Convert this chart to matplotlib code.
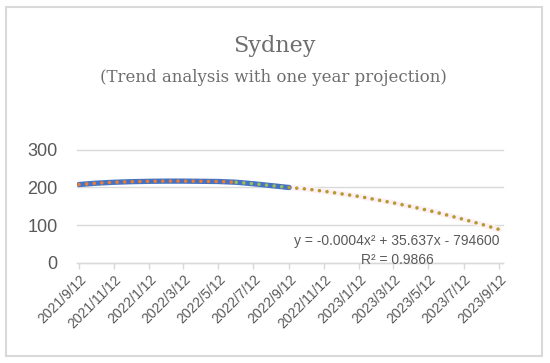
import matplotlib.pyplot as plt
import matplotlib.dates as mdates
from matplotlib.patches import Rectangle
import datetime as dt

# observed series (monthly readings), 2021/9/12 - 2022/9/12
obs_dates = ['2021-09-12', '2021-10-12', '2021-11-12', '2021-12-12', '2022-01-12',
             '2022-02-12', '2022-03-12', '2022-04-12', '2022-05-12', '2022-06-12',
             '2022-07-12', '2022-08-12', '2022-09-12']
obs_vals = [208, 211.5, 214, 215.5, 216.5, 217, 217, 216.5, 216, 214, 210, 205, 200]

# polynomial trendline, one year projection
proj_dates = ['2022-09-12', '2022-10-12', '2022-11-12', '2022-12-12', '2023-01-12',
              '2023-02-12', '2023-03-12', '2023-04-12', '2023-05-12', '2023-06-12',
              '2023-07-12', '2023-08-12', '2023-09-12']
proj_vals = [200, 196, 190, 183, 176, 167, 159, 149, 139, 127, 115, 102, 88]

tick_dates = ['2021-09-12', '2021-11-12', '2022-01-12', '2022-03-12', '2022-05-12',
              '2022-07-12', '2022-09-12', '2022-11-12', '2023-01-12', '2023-03-12',
              '2023-05-12', '2023-07-12', '2023-09-12']

yticks = [0, 100, 200, 300]

eq_text = 'y = -0.0004x² + 35.637x - 794600'
r2_text = 'R² = 0.9866'


def to_date(s):
    return dt.datetime.strptime(s, '%Y-%m-%d')


def fmt(d):
    return '%d/%d/%d' % (d.year, d.month, d.day)


obs_x = [to_date(s) for s in obs_dates]
proj_x = [to_date(s) for s in proj_dates]
tick_x = [to_date(s) for s in tick_dates]

grey = '#595959'
light = '#D9D9D9'

fig = plt.figure(figsize=(5.5, 3.63), dpi=100)

# chart frame
fig.patches.append(Rectangle((5.5 / 550, 1 - 355.5 / 363), 536.5 / 550, 349 / 363,
                             transform=fig.transFigure, fill=False,
                             edgecolor=light, linewidth=1.5))

fig.text(0.498, 0.873, 'Sydney', ha='center', va='center',
         family='DejaVu Serif', fontsize=16, color='#6e6e6e')
fig.text(0.498, 0.787, '(Trend analysis with one year projection)', ha='center',
         va='center', family='DejaVu Serif', fontsize=12, color='#6e6e6e')

ax = fig.add_axes([77 / 550, 1 - 262.5 / 363, 426 / 550, 112.5 / 363])

dots = (0, (0.01, 2.1))

ax.plot(proj_x, proj_vals, color='#fdf0f4', linewidth=4, solid_capstyle='round', zorder=1)
ax.plot(obs_x, obs_vals, color='#4472C4', linewidth=3.8, solid_capstyle='round', zorder=2)
ax.plot(obs_x[:10], obs_vals[:10], color='#ED7D31', linewidth=2.6,
        linestyle=dots, dash_capstyle='round', zorder=3)
ax.plot(obs_x[9:], obs_vals[9:], color='#9BBB59', linewidth=2.6,
        linestyle=dots, dash_capstyle='round', zorder=3)
ax.plot(proj_x, proj_vals, color='#B59A2F', linewidth=2.6,
        linestyle=dots, dash_capstyle='round', zorder=3)

ax.set_ylim(0, 300)
ax.set_xlim(tick_x[0] - dt.timedelta(days=3.5), tick_x[-1] + dt.timedelta(days=6.5))

ax.set_yticks(yticks)
ax.set_yticklabels([str(v) for v in yticks], family='Liberation Sans', fontsize=13, color=grey)
ax.set_xticks(mdates.date2num(tick_x))
ax.set_xticklabels([fmt(d) for d in tick_x], rotation=45, ha='right',
                   rotation_mode='anchor', family='Liberation Sans', fontsize=10, color=grey)

ax.tick_params(axis='y', length=0, pad=14)
ax.tick_params(axis='x', length=4, width=1, color=light, pad=3)

ax.yaxis.grid(True, color=light, linewidth=1)
for gl in ax.get_ygridlines():
    gl.set_clip_on(False)
ax.set_axisbelow(True)

for side in ['top', 'right', 'left']:
    ax.spines[side].set_visible(False)
ax.spines['bottom'].set_color(light)
ax.spines['bottom'].set_linewidth(1)

ax.text(0.751, 0.19, eq_text, transform=ax.transAxes, ha='center', va='center',
        family='Liberation Sans', fontsize=10, color=grey)
ax.text(0.753, 0.02, r2_text, transform=ax.transAxes, ha='center', va='center',
        family='Liberation Sans', fontsize=10, color=grey)

fig.savefig('out.png', dpi=100)
